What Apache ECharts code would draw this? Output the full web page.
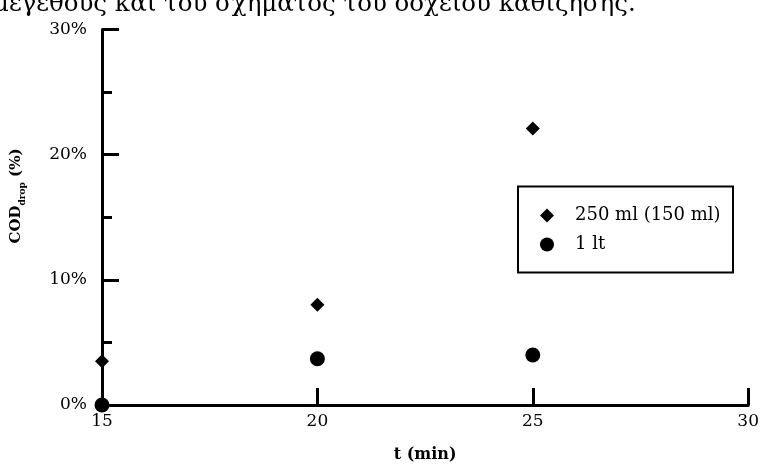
<!DOCTYPE html>
<html><head><meta charset="utf-8">
<script src="https://cdn.jsdelivr.net/npm/echarts@6/dist/echarts.min.js"></script>
<style>html,body{margin:0;padding:0;background:#fff}#c{width:762px;height:468px}</style>
</head><body><div id="c"></div>
<script>
const tValues = [15, 20, 25];
const series250 = [3.5, 8.0, 22.1];
const series1lt = [0, 3.7, 4.0];
const seriesNames = ['250 ml (150 ml)', '1 lt'];
const xTicks = [15, 20, 25, 30];
const yTicks = [0, 10, 20, 30];
const captionText = 'μεγέθους και του σχήματος του δοχείου καθίζησης.';
const xName = 't (min)';

const serif = 'DejaVu Serif';
const chart = echarts.init(document.getElementById('c'), null, {renderer: 'canvas'});
const axisLineStyle = {color: '#000', width: 3};
chart.setOption({
  animation: false,
  backgroundColor: '#fff',
  grid: {left: 102, right: 12, top: 29.5, bottom: 61.5, containLabel: false},
  xAxis: {
    type: 'value', min: xTicks[0], max: xTicks[xTicks.length - 1], interval: 5,
    axisLine: {show: true, onZero: false, lineStyle: axisLineStyle},
    axisTick: {show: true, inside: true, length: 17, lineStyle: axisLineStyle},
    axisLabel: {color: '#000', fontFamily: serif, fontSize: 17, margin: 8},
    splitLine: {show: false},
    name: xName, nameLocation: 'middle', nameGap: 42,
    nameTextStyle: {color: '#000', fontFamily: serif, fontWeight: 'bold', fontSize: 16}
  },
  yAxis: {
    type: 'value', min: yTicks[0], max: yTicks[yTicks.length - 1], interval: 10,
    axisLine: {show: true, onZero: false, lineStyle: axisLineStyle},
    axisTick: {show: true, inside: true, length: 17, lineStyle: axisLineStyle},
    minorTick: {show: true, splitNumber: 2, length: 10, lineStyle: axisLineStyle},
    axisLabel: {color: '#000', fontFamily: serif, fontSize: 17, margin: 15, formatter: '{value}%'},
    splitLine: {show: false}
  },
  legend: {
    orient: 'vertical', left: 540, top: 206.5, padding: 0,
    itemWidth: 14, itemHeight: 14, itemGap: 11,
    textStyle: {color: '#000', fontFamily: serif, fontSize: 18, lineHeight: 18, padding: [0, 0, 0, 16]},
    data: [{name: seriesNames[0], icon: 'diamond'}, {name: seriesNames[1], icon: 'circle'}]
  },
  graphic: [
    {type: 'rect', shape: {x: 518, y: 186.5, width: 215, height: 86}, style: {fill: 'none', stroke: '#000', lineWidth: 2}, z: 10},
    {type: 'text', x: 18, y: 196, rotation: Math.PI / 2,
     style: {text: '{a|COD}{b|drop}{a| (%)}', align: 'center', verticalAlign: 'middle',
       rich: {
         a: {fontFamily: serif, fontWeight: 'bold', fontSize: 15, lineHeight: 18, verticalAlign: 'top', fill: '#000'},
         b: {fontFamily: serif, fontWeight: 'bold', fontSize: 9, lineHeight: 10, verticalAlign: 'bottom', fill: '#000'}
       }}},
    {type: 'text', x: -7, y: 17, style: {text: captionText, fontFamily: serif, fontSize: 24.5, fill: '#000', verticalAlign: 'bottom', align: 'left'}}
  ],
  series: [
    {name: seriesNames[0], type: 'scatter', symbol: 'diamond', symbolSize: 14,
     itemStyle: {color: '#000', opacity: 1}, data: tValues.map((t, i) => [t, series250[i]])},
    {name: seriesNames[1], type: 'scatter', symbol: 'circle', symbolSize: 15,
     itemStyle: {color: '#000', opacity: 1}, data: tValues.map((t, i) => [t, series1lt[i]])}
  ]
});
</script></body></html>
